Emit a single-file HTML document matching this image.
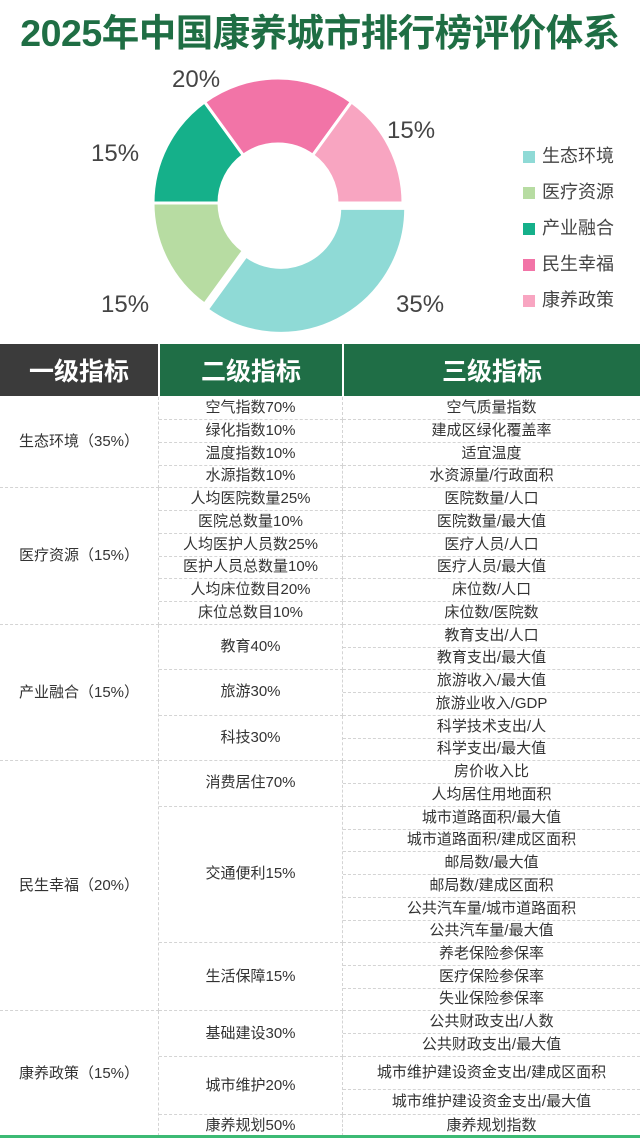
<!DOCTYPE html>
<html><head><meta charset="utf-8">
<style>
*{margin:0;padding:0;box-sizing:border-box}
body{width:640px;height:1138px;background:#fff;position:relative;overflow:hidden;font-family:"Liberation Sans","Noto Sans CJK SC",sans-serif;color:#333}
.t{position:absolute;left:0;width:640px;top:9px;text-align:center;font-size:37.5px;font-weight:bold;color:#1f6e44;letter-spacing:-0.5px;line-height:48px}
.pl{position:absolute;font-size:24px;color:#444;line-height:28px}
.lg{position:absolute;left:523px;font-size:18px;color:#444;line-height:22px}
.lg i{display:inline-block;width:12px;height:12px;margin-right:7px;vertical-align:-1px}
.h{position:absolute;top:344px;height:52px;color:#fff;font-size:25px;font-weight:bold;display:flex;align-items:center;justify-content:center}
.c{position:absolute;display:flex;align-items:center;justify-content:center;font-size:15px;color:#333;border-bottom:1px dashed #d4d4d4;text-align:center;line-height:18px}
.a{left:0;width:159px;border-right:1px dashed #d4d4d4}
.b{left:159px;width:184px;border-right:1px dashed #d4d4d4}
.d{left:343px;width:297px}
</style></head><body>
<div class="t">2025年中国康养城市排行榜评价体系</div>
<svg id="pie" width="640" height="340" style="position:absolute;left:0;top:0"></svg>
<div class="pl" style="left:172px;top:66px">20%</div>
<div class="pl" style="left:387px;top:117px">15%</div>
<div class="pl" style="left:91px;top:140px">15%</div>
<div class="pl" style="left:101px;top:291px">15%</div>
<div class="pl" style="left:396px;top:291px">35%</div>
<div class="lg" style="top:145px"><i style="background:#8fdad6"></i>生态环境</div>
<div class="lg" style="top:181px"><i style="background:#b7dca2"></i>医疗资源</div>
<div class="lg" style="top:217px"><i style="background:#15b08a"></i>产业融合</div>
<div class="lg" style="top:253px"><i style="background:#f274a7"></i>民生幸福</div>
<div class="lg" style="top:289px"><i style="background:#f8a5c1"></i>康养政策</div>
<script>
(function(){
var s=document.getElementById('pie'),cx=278,cy=203,R=125,r=59;
var seg=[[90,216,'#8fdad6',6],[216,270,'#b7dca2',0],[270,324,'#15b08a',0],[324,396,'#f274a7',0],[36,90,'#f8a5c1',0]];
function p(a,rr,ox,oy){var t=a*Math.PI/180;return [(cx+ox+rr*Math.sin(t)).toFixed(2),(cy+oy-rr*Math.cos(t)).toFixed(2)];}
seg.forEach(function(g){var m=(g[0]+g[1])/2*Math.PI/180,ox=g[3]*Math.sin(m),oy=-g[3]*Math.cos(m);
var a=p(g[0],R,ox,oy),b=p(g[1],R,ox,oy),c=p(g[1],r,ox,oy),d=p(g[0],r,ox,oy),l=(g[1]-g[0])>180?1:0;
var e=document.createElementNS('http://www.w3.org/2000/svg','path');
e.setAttribute('d','M'+a+' A'+R+' '+R+' 0 '+l+' 1 '+b+' L'+c+' A'+r+' '+r+' 0 '+l+' 0 '+d+'Z');
e.setAttribute('fill',g[2]);e.setAttribute('stroke','#fff');e.setAttribute('stroke-width','3');s.appendChild(e);});
})();
</script>
<div class="h" style="left:0;width:158px;background:#3b3b3b">一级指标</div>
<div class="h" style="left:160px;width:182px;background:#1f6e46">二级指标</div>
<div class="h" style="left:344px;width:296px;background:#1f6e46">三级指标</div>

<div class="c a" style="top:397px;height:91px">生态环境（35%）</div>
<div class="c a" style="top:488px;height:137px">医疗资源（15%）</div>
<div class="c a" style="top:625px;height:136px">产业融合（15%）</div>
<div class="c a" style="top:761px;height:250px">民生幸福（20%）</div>
<div class="c a" style="top:1011px;height:125px;border-bottom:none">康养政策（15%）</div>

<div class="c b" style="top:397px;height:23px">空气指数70%</div>
<div class="c b" style="top:420px;height:22.5px">绿化指数10%</div>
<div class="c b" style="top:442.5px;height:23px">温度指数10%</div>
<div class="c b" style="top:465.5px;height:22.5px">水源指数10%</div>
<div class="c b" style="top:488px;height:23px">人均医院数量25%</div>
<div class="c b" style="top:511px;height:22.5px">医院总数量10%</div>
<div class="c b" style="top:533.5px;height:23px">人均医护人员数25%</div>
<div class="c b" style="top:556.5px;height:22.5px">医护人员总数量10%</div>
<div class="c b" style="top:579px;height:23px">人均床位数目20%</div>
<div class="c b" style="top:602px;height:23px">床位总数目10%</div>
<div class="c b" style="top:625px;height:45px">教育40%</div>
<div class="c b" style="top:670px;height:45.5px">旅游30%</div>
<div class="c b" style="top:715.5px;height:45.5px">科技30%</div>
<div class="c b" style="top:761px;height:45.5px">消费居住70%</div>
<div class="c b" style="top:806.5px;height:136.5px">交通便利15%</div>
<div class="c b" style="top:943px;height:68px">生活保障15%</div>
<div class="c b" style="top:1011px;height:46px">基础建设30%</div>
<div class="c b" style="top:1057px;height:58px">城市维护20%</div>
<div class="c b" style="top:1115px;height:21px;border-bottom:none">康养规划50%</div>

<div class="c d" style="top:397px;height:23px">空气质量指数</div>
<div class="c d" style="top:420px;height:22.5px">建成区绿化覆盖率</div>
<div class="c d" style="top:442.5px;height:23px">适宜温度</div>
<div class="c d" style="top:465.5px;height:22.5px">水资源量/行政面积</div>
<div class="c d" style="top:488px;height:23px">医院数量/人口</div>
<div class="c d" style="top:511px;height:22.5px">医院数量/最大值</div>
<div class="c d" style="top:533.5px;height:23px">医疗人员/人口</div>
<div class="c d" style="top:556.5px;height:22.5px">医疗人员/最大值</div>
<div class="c d" style="top:579px;height:23px">床位数/人口</div>
<div class="c d" style="top:602px;height:23px">床位数/医院数</div>
<div class="c d" style="top:625px;height:22.5px">教育支出/人口</div>
<div class="c d" style="top:647.5px;height:22.5px">教育支出/最大值</div>
<div class="c d" style="top:670px;height:23px">旅游收入/最大值</div>
<div class="c d" style="top:693px;height:22.5px">旅游业收入/GDP</div>
<div class="c d" style="top:715.5px;height:23px">科学技术支出/人</div>
<div class="c d" style="top:738.5px;height:22.5px">科学支出/最大值</div>
<div class="c d" style="top:761px;height:23px">房价收入比</div>
<div class="c d" style="top:784px;height:22.5px">人均居住用地面积</div>
<div class="c d" style="top:806.5px;height:23px">城市道路面积/最大值</div>
<div class="c d" style="top:829.5px;height:22.5px">城市道路面积/建成区面积</div>
<div class="c d" style="top:852px;height:23px">邮局数/最大值</div>
<div class="c d" style="top:875px;height:22.5px">邮局数/建成区面积</div>
<div class="c d" style="top:897.5px;height:23px">公共汽车量/城市道路面积</div>
<div class="c d" style="top:920.5px;height:22.5px">公共汽车量/最大值</div>
<div class="c d" style="top:943px;height:23px">养老保险参保率</div>
<div class="c d" style="top:966px;height:22.5px">医疗保险参保率</div>
<div class="c d" style="top:988.5px;height:22.5px">失业保险参保率</div>
<div class="c d" style="top:1011px;height:23px">公共财政支出/人数</div>
<div class="c d" style="top:1034px;height:23px">公共财政支出/最大值</div>
<div class="c d" style="top:1057px;height:33px">城市维护建设资金支出/建成区面积</div>
<div class="c d" style="top:1090px;height:25px">城市维护建设资金支出/最大值</div>
<div class="c d" style="top:1115px;height:21px;border-bottom:none">康养规划指数</div>
<div style="position:absolute;left:0;top:1135px;width:640px;height:3px;background:#3cba74"></div>
</body></html>
